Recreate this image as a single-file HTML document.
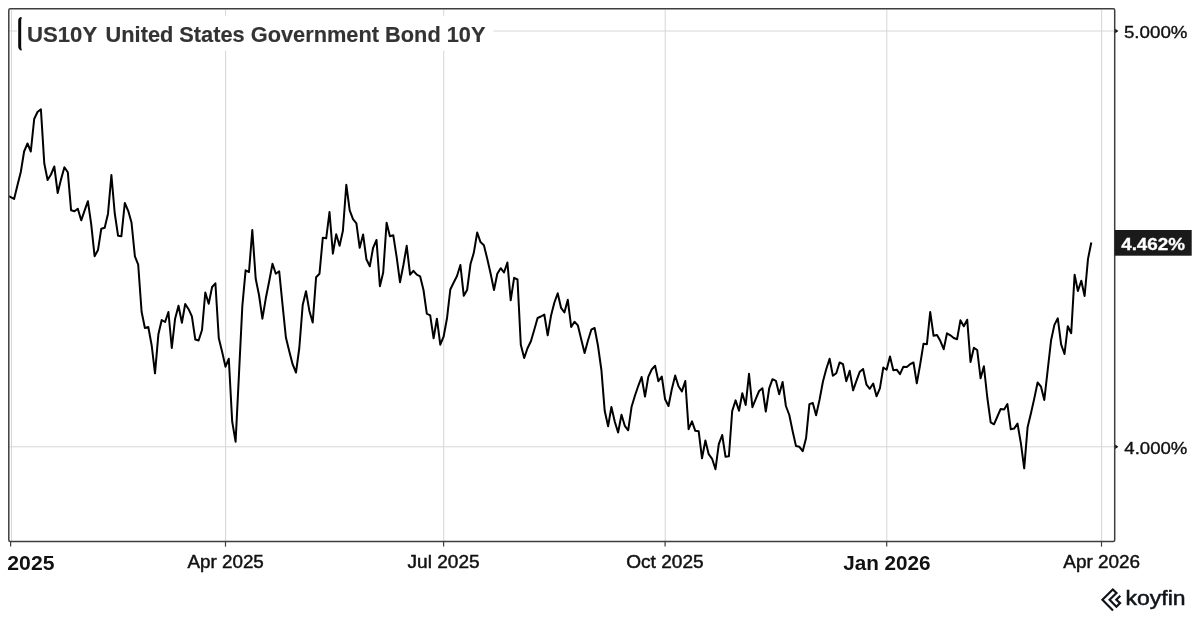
<!DOCTYPE html>
<html lang="en">
<head>
<meta charset="utf-8">
<title>US10Y United States Government Bond 10Y</title>
<style>
html,body{margin:0;padding:0;background:#fff;}
body{width:1200px;height:620px;overflow:hidden;font-family:"Liberation Sans",Arial,sans-serif;}
svg{display:block;}
</style>
</head>
<body>
<svg width="1200" height="620" viewBox="0 0 1200 620">
<rect x="0" y="0" width="1200" height="620" fill="#ffffff"/>
<line x1="11.5" y1="10" x2="11.5" y2="541" stroke="#d6d6d6" stroke-width="1"/>
<line x1="225.6" y1="10" x2="225.6" y2="541" stroke="#d6d6d6" stroke-width="1"/>
<line x1="443.7" y1="10" x2="443.7" y2="541" stroke="#d6d6d6" stroke-width="1"/>
<line x1="665.2" y1="10" x2="665.2" y2="541" stroke="#d6d6d6" stroke-width="1"/>
<line x1="886.8" y1="10" x2="886.8" y2="541" stroke="#d6d6d6" stroke-width="1"/>
<line x1="1101.6" y1="10" x2="1101.6" y2="541" stroke="#d6d6d6" stroke-width="1"/>
<line x1="9" y1="31.0" x2="1114.7" y2="31.0" stroke="#d6d6d6" stroke-width="1"/>
<line x1="9" y1="446.8" x2="1114.7" y2="446.8" stroke="#d6d6d6" stroke-width="1"/>
<rect x="17" y="15.8" width="476.5" height="34.8" fill="#ffffff"/>
<polyline points="9.1,196.2 10.7,197.1 14.1,199.0 17.4,185.5 20.8,172.0 24.1,151.5 27.5,143.5 30.8,151.5 34.2,119.0 37.5,112.0 40.9,109.3 44.3,163.5 47.6,180.0 51.0,174.5 54.3,166.5 57.7,193.0 61.0,179.5 64.4,167.3 67.8,172.2 71.1,210.3 74.5,211.3 77.8,208.7 81.2,220.3 84.5,210.8 87.9,201.2 91.2,224.2 94.6,256.2 98.0,250.0 101.3,228.7 104.7,227.8 108.0,213.7 111.4,175.0 114.7,213.0 118.1,235.8 121.4,236.2 124.8,203.0 128.2,210.8 131.5,222.5 134.9,256.3 138.2,264.7 141.6,311.7 144.9,328.0 148.3,327.0 151.7,345.5 155.0,373.3 158.4,334.2 161.7,320.0 165.1,322.0 168.4,312.0 171.8,348.0 175.1,318.7 178.5,305.8 181.9,322.8 185.2,304.0 188.6,309.2 191.9,316.3 195.3,339.5 198.6,340.5 202.0,330.0 205.3,292.5 208.7,303.7 212.1,287.0 215.4,283.3 218.8,338.3 222.1,351.7 225.5,366.7 228.8,358.7 232.2,421.7 235.6,441.7 238.9,375.8 242.3,306.7 245.6,270.3 249.0,272.0 252.3,230.0 255.7,278.7 259.0,295.0 262.4,318.7 265.8,298.3 269.1,281.7 272.5,263.7 275.8,273.7 279.2,271.3 282.5,304.4 285.9,337.5 289.2,351.0 292.6,364.2 296.0,372.5 299.3,348.0 302.7,305.0 306.0,291.2 309.4,311.0 312.7,322.6 316.1,277.2 319.5,273.7 322.8,237.8 326.2,238.3 329.5,212.0 332.9,253.7 336.2,234.2 339.6,245.8 342.9,230.8 346.3,184.7 349.7,210.3 353.0,219.2 356.4,223.3 359.7,247.8 363.1,234.5 366.4,259.2 369.8,266.3 373.1,247.8 376.5,240.0 379.9,286.2 383.2,272.5 386.6,222.8 389.9,236.2 393.3,235.3 396.6,256.7 400.0,282.2 403.4,265.0 406.7,245.8 410.1,274.7 413.4,270.8 416.8,274.7 420.1,276.3 423.5,290.0 426.8,313.7 430.2,315.3 433.6,338.3 436.9,318.7 440.3,344.7 443.6,336.7 447.0,318.3 450.3,289.5 453.7,282.5 457.0,276.0 460.4,265.0 463.8,295.8 467.1,290.0 470.5,264.0 473.8,252.8 477.2,232.5 480.5,242.1 483.9,245.2 487.3,259.0 490.6,273.5 494.0,290.0 497.3,273.8 500.7,268.2 504.0,272.5 507.4,262.5 510.7,300.3 514.1,277.8 517.5,279.5 520.8,344.7 524.2,358.0 527.5,348.3 530.9,341.3 534.2,330.0 537.6,318.0 540.9,316.5 544.3,314.5 547.7,335.3 551.0,315.8 554.4,302.5 557.7,293.3 561.1,307.9 564.4,312.5 567.8,299.8 571.2,327.0 574.5,321.8 577.9,325.4 581.2,339.2 584.6,353.0 587.9,340.8 591.3,329.7 594.6,328.0 598.0,345.8 601.4,370.0 604.7,410.8 608.1,426.3 611.4,407.0 614.8,421.7 618.1,432.5 621.5,414.7 624.8,425.8 628.2,430.3 631.6,406.7 634.9,395.8 638.3,385.8 641.6,377.0 645.0,396.6 648.3,376.8 651.7,369.5 655.1,365.8 658.4,381.2 661.8,376.5 665.1,399.3 668.5,406.0 671.8,389.3 675.2,375.5 678.5,386.3 681.9,391.4 685.3,381.0 688.6,429.2 692.0,421.3 695.3,430.8 698.7,431.3 702.0,458.3 705.4,440.5 708.7,454.2 712.1,458.8 715.5,469.2 718.8,444.2 722.2,435.0 725.5,456.7 728.9,456.3 732.2,411.0 735.6,400.4 739.0,410.8 742.3,393.3 745.7,405.0 749.0,373.8 752.4,407.2 755.7,399.2 759.1,391.0 762.4,388.2 765.8,411.5 769.2,388.3 772.5,379.2 775.9,380.8 779.2,394.2 782.6,382.0 785.9,406.0 789.3,415.0 792.6,431.0 796.0,446.1 799.4,446.8 802.7,451.2 806.1,438.0 809.4,404.1 812.8,403.0 816.1,415.2 819.5,400.0 822.9,381.7 826.2,369.2 829.6,358.7 832.9,375.8 836.3,373.3 839.6,362.5 843.0,364.2 846.3,381.3 849.7,370.8 853.1,390.3 856.4,380.8 859.8,371.7 863.1,369.0 866.5,384.7 869.8,388.8 873.2,383.5 876.5,396.3 879.9,388.3 883.3,367.5 886.6,369.8 890.0,356.5 893.3,370.3 896.7,369.7 900.0,374.2 903.4,366.7 906.8,367.0 910.1,364.2 913.5,362.5 916.8,383.3 920.2,364.2 923.5,343.7 926.9,344.2 930.2,312.0 933.6,335.8 937.0,335.0 940.3,340.8 943.7,349.2 947.0,333.3 950.4,335.3 953.7,338.0 957.1,339.2 960.4,320.3 963.8,326.3 967.2,319.7 970.5,362.0 973.9,347.8 977.2,350.0 980.6,378.3 983.9,366.3 987.3,397.5 990.7,422.3 994.0,424.3 997.4,416.5 1000.7,408.9 1004.1,409.6 1007.4,404.1 1010.8,429.3 1014.1,428.6 1017.5,423.6 1020.9,443.3 1024.2,468.3 1027.6,427.2 1030.9,413.5 1034.3,398.4 1037.6,382.5 1041.0,386.7 1044.3,400.0 1047.7,370.0 1051.1,340.2 1054.4,324.9 1057.8,318.3 1061.1,344.4 1064.5,354.0 1067.8,326.2 1071.2,333.2 1074.6,274.8 1077.9,291.0 1081.3,280.7 1084.6,296.0 1088.0,258.9 1091.3,242.5" fill="none" stroke="#000000" stroke-width="2" stroke-linejoin="round" stroke-linecap="butt"/>
<rect x="8.8" y="8.85" width="1105.9" height="532.6" rx="1.5" fill="none" stroke="#3e3e3e" stroke-width="1.5"/>
<line x1="10.6" y1="541.4" x2="10.6" y2="546.6" stroke="#3e3e3e" stroke-width="1.2"/>
<line x1="225.5" y1="541.4" x2="225.5" y2="546.6" stroke="#3e3e3e" stroke-width="1.2"/>
<line x1="443.6" y1="541.4" x2="443.6" y2="546.6" stroke="#3e3e3e" stroke-width="1.2"/>
<line x1="665.1" y1="541.4" x2="665.1" y2="546.6" stroke="#3e3e3e" stroke-width="1.2"/>
<line x1="886.7" y1="541.4" x2="886.7" y2="546.6" stroke="#3e3e3e" stroke-width="1.2"/>
<line x1="1101.5" y1="541.4" x2="1101.5" y2="546.6" stroke="#3e3e3e" stroke-width="1.2"/>
<path d="M1115.2 28.7 L1118.4 31.0 L1115.2 33.3 Z" fill="#111111"/>
<path d="M1115.2 444.5 L1118.4 446.8 L1115.2 449.1 Z" fill="#111111"/>
<path d="M21.7,17.1 C19.5,17.1 18.2,18.6 18.2,21 L18.2,46.5 C18.2,48.9 19.5,50.4 21.7,50.4 L21.7,49.2 C21.4,48.6 21.2,47.8 21.2,46.5 L21.2,21 C21.2,19.7 21.4,18.9 21.7,18.3 Z" fill="#0a0a0a"/>
<rect x="1114.7" y="230" width="77" height="25.7" fill="#1a1a1a"/>
<polyline points="1113.0,610.5 1102.4,599.7 1112.8,589.4 1116.5,592.9 1109.6,599.7 1116.4,606.8 1120.1,603.1 1116.3,599.7 1120.3,595.8" fill="none" stroke="#0f1419" stroke-width="2.15" stroke-linejoin="miter" stroke-linecap="butt"/>
<text transform="matrix(1,0.0004,0,1,0,-0.0249)" x="27.01" y="42.00" font-family="'Liberation Sans', Arial, sans-serif" font-size="22.20" font-weight="700" fill="#333333" stroke="#333333" stroke-width="0.15" textLength="70.24" lengthAdjust="spacingAndGlyphs">US10Y</text>
<text transform="matrix(1,0.0004,0,1,0,-0.1182)" x="105.55" y="42.00" font-family="'Liberation Sans', Arial, sans-serif" font-size="22.20" font-weight="700" fill="#333333" stroke="#333333" stroke-width="0.15" textLength="379.95" lengthAdjust="spacingAndGlyphs">United States Government Bond 10Y</text>
<text transform="matrix(1,0.0004,0,1,0,-0.0124)" x="7.33" y="569.60" font-family="'Liberation Sans', Arial, sans-serif" font-size="20.00" font-weight="700" fill="#111111" textLength="47.12" lengthAdjust="spacingAndGlyphs">2025</text>
<text transform="matrix(1,0.0004,0,1,0,-0.0903)" x="187.54" y="567.60" font-family="'Liberation Sans', Arial, sans-serif" font-size="17.90" font-weight="400" fill="#111111" stroke="#111111" stroke-width="0.45" textLength="76.30" lengthAdjust="spacingAndGlyphs">Apr 2025</text>
<text transform="matrix(1,0.0004,0,1,0,-0.1774)" x="407.57" y="567.60" font-family="'Liberation Sans', Arial, sans-serif" font-size="17.90" font-weight="400" fill="#111111" stroke="#111111" stroke-width="0.45" textLength="72.06" lengthAdjust="spacingAndGlyphs">Jul 2025</text>
<text transform="matrix(1,0.0004,0,1,0,-0.2660)" x="626.24" y="567.60" font-family="'Liberation Sans', Arial, sans-serif" font-size="17.90" font-weight="400" fill="#111111" stroke="#111111" stroke-width="0.45" textLength="77.35" lengthAdjust="spacingAndGlyphs">Oct 2025</text>
<text transform="matrix(1,0.0004,0,1,0,-0.3548)" x="843.18" y="569.60" font-family="'Liberation Sans', Arial, sans-serif" font-size="20.00" font-weight="700" fill="#111111" textLength="87.45" lengthAdjust="spacingAndGlyphs">Jan 2026</text>
<text transform="matrix(1,0.0004,0,1,0,-0.4407)" x="1063.34" y="567.60" font-family="'Liberation Sans', Arial, sans-serif" font-size="17.90" font-weight="400" fill="#111111" stroke="#111111" stroke-width="0.45" textLength="76.83" lengthAdjust="spacingAndGlyphs">Apr 2026</text>
<text transform="matrix(1,0.0004,0,1,0,-0.4623)" x="1123.94" y="37.90" font-family="'Liberation Sans', Arial, sans-serif" font-size="17.00" font-weight="400" fill="#111111" stroke="#111111" stroke-width="0.35" textLength="63.57" lengthAdjust="spacingAndGlyphs">5.000%</text>
<text transform="matrix(1,0.0004,0,1,0,-0.4623)" x="1124.33" y="453.60" font-family="'Liberation Sans', Arial, sans-serif" font-size="17.00" font-weight="400" fill="#111111" stroke="#111111" stroke-width="0.35" textLength="63.07" lengthAdjust="spacingAndGlyphs">4.000%</text>
<text transform="matrix(1,0.0004,0,1,0,-0.4613)" x="1121.15" y="249.80" font-family="'Liberation Sans', Arial, sans-serif" font-size="17.20" font-weight="700" fill="#ffffff" stroke="#ffffff" stroke-width="0.3" textLength="63.97" lengthAdjust="spacingAndGlyphs">4.462%</text>
<text transform="matrix(1,0.0004,0,1,0,-0.4622)" x="1125.63" y="604.90" font-family="'Liberation Sans', Arial, sans-serif" font-size="19.70" font-weight="400" fill="#0f1419" stroke="#0f1419" stroke-width="0.5" textLength="59.90" lengthAdjust="spacingAndGlyphs">koyfin</text>
</svg>
</body>
</html>
